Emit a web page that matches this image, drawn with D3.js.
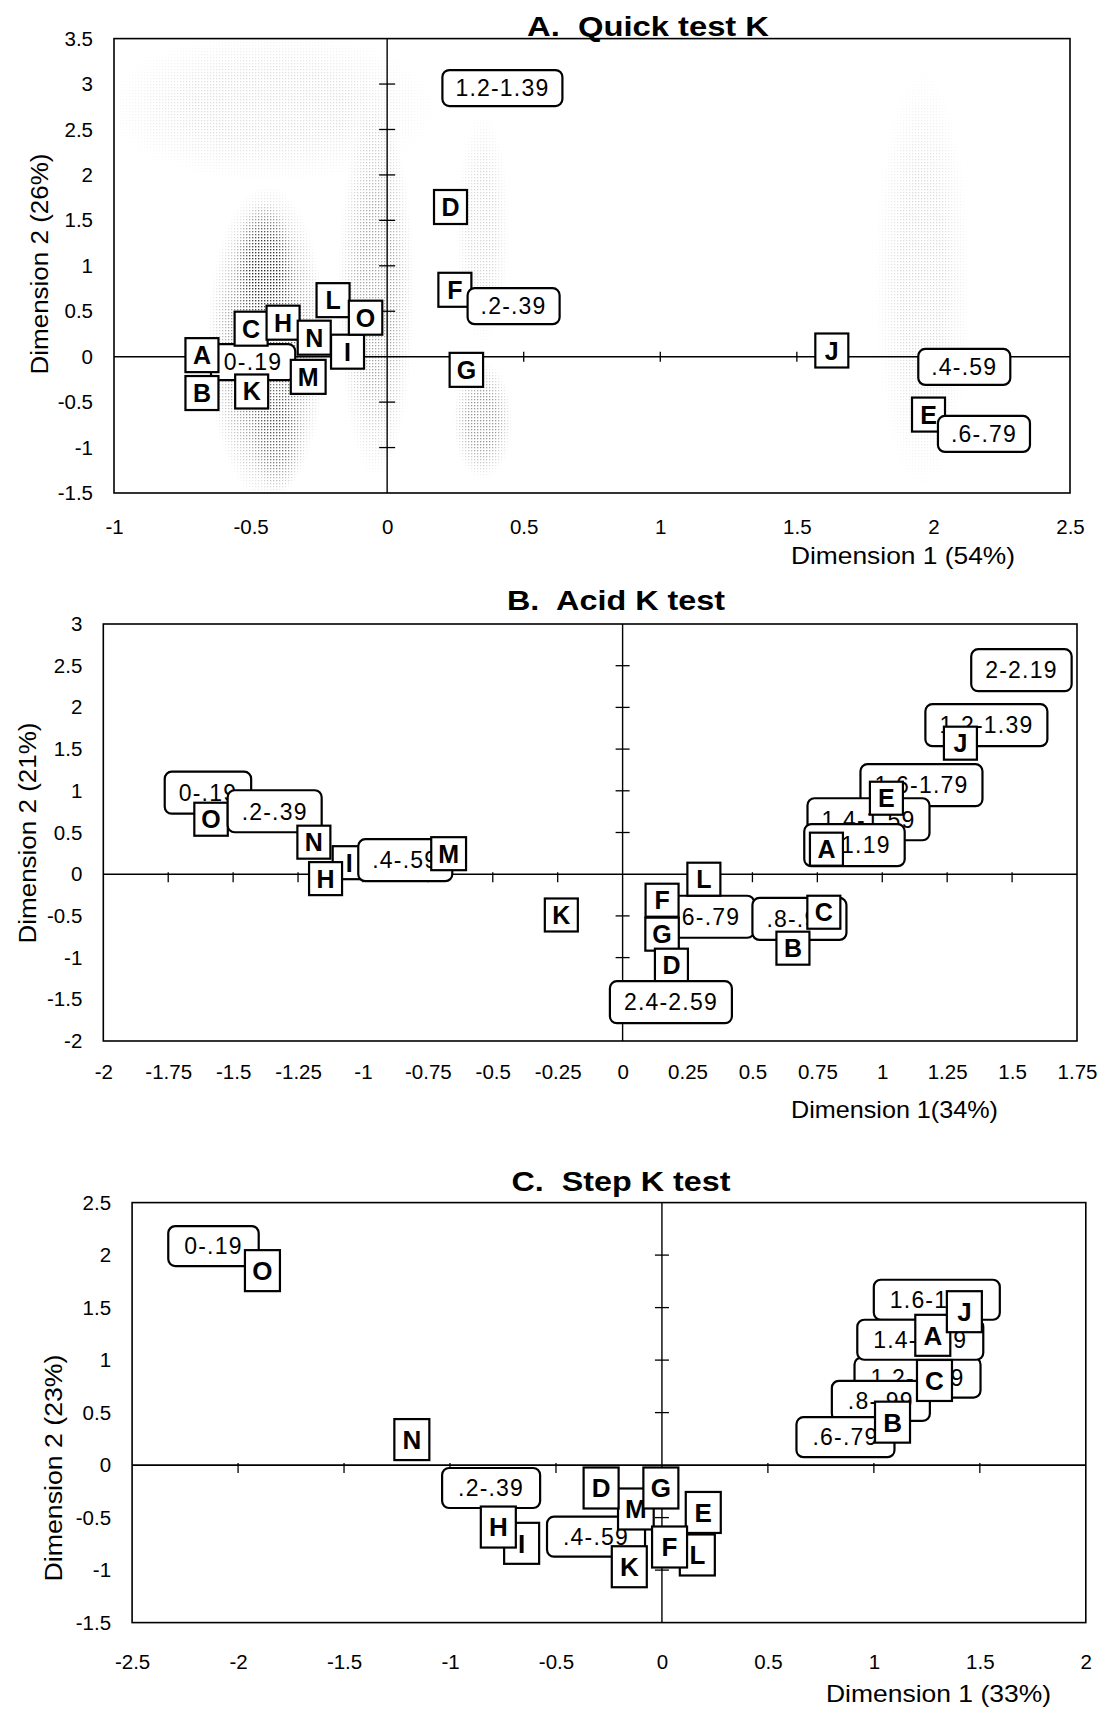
<!DOCTYPE html>
<html><head><meta charset="utf-8">
<script src="https://cdn.jsdelivr.net/npm/d3@7"></script>
<style>
html,body{margin:0;padding:0;background:#fff;}
svg{display:block;}
text{font-family:"Liberation Sans",Arial,sans-serif;fill:#000;}
</style></head><body>
<svg id="chart" width="1102" height="1709"></svg>
<script>
// ---------------- data ----------------
const quickXTicks = [-1, -0.5, 0, 0.5, 1, 1.5, 2, 2.5];
const quickYTicks = [-1.5, -1, -0.5, 0, 0.5, 1, 1.5, 2, 2.5, 3, 3.5];
const acidXTicks  = [-2, -1.75, -1.5, -1.25, -1, -0.75, -0.5, -0.25, 0, 0.25, 0.5, 0.75, 1, 1.25, 1.5, 1.75];
const acidYTicks  = [-2, -1.5, -1, -0.5, 0, 0.5, 1, 1.5, 2, 2.5, 3];
const stepXTicks  = [-2.5, -2, -1.5, -1, -0.5, 0, 0.5, 1, 1.5, 2];
const stepYTicks  = [-1.5, -1, -0.5, 0, 0.5, 1, 1.5, 2, 2.5];

// [label, kind ("s" = sample, "k" = K class), dimension 1, dimension 2] in drawing order
const quickPoints = [
  ["1.2-1.39","k",0.422,2.956],
  ["D","s",0.232,1.647],
  ["F","s",0.248,0.736],
  [".2-.39","k",0.463,0.556],
  ["G","s",0.29,-0.145],
  ["0-.19","k",-0.491,-0.06],
  ["A","s",-0.678,0.017],
  ["B","s",-0.678,-0.40],
  ["K","s",-0.496,-0.383],
  ["C","s",-0.498,0.308],
  ["H","s",-0.381,0.374],
  ["L","s",-0.198,0.622],
  ["I","s",-0.145,0.055],
  ["N","s",-0.267,0.209],
  ["O","s",-0.079,0.429],
  ["M","s",-0.289,-0.222],
  ["J","s",1.628,0.068],
  [".4-.59","k",2.113,-0.113],
  ["E","s",1.982,-0.637],
  [".6-.79","k",2.185,-0.85]
];
const acidPoints = [
  ["0-.19","k",-1.597,0.977],
  ["O","s",-1.585,0.659],
  [".2-.39","k",-1.340,0.755],
  ["I","s",-1.053,0.138],
  ["N","s",-1.189,0.384],
  ["H","s",-1.144,-0.053],
  [".4-.59","k",-0.837,0.168],
  ["M","s",-0.670,0.246],
  ["K","s",-0.236,-0.489],
  ["2-2.19","k",1.536,2.446],
  ["1.2-1.39","k",1.401,1.787],
  ["J","s",1.301,1.571],
  ["1.6-1.79","k",1.151,1.067],
  ["1.4-1.59","k",0.947,0.659],
  ["E","s",1.016,0.911],
  ["1-1.19","k",0.893,0.348],
  ["A","s",0.785,0.30],
  [".6-.79","k",0.326,-0.51],
  [".8-.99","k",0.681,-0.536],
  ["F","s",0.152,-0.312],
  ["G","s",0.152,-0.719],
  ["L","s",0.313,-0.06],
  ["C","s",0.775,-0.456],
  ["B","s",0.656,-0.887],
  ["D","s",0.188,-1.091],
  ["2.4-2.59","k",0.186,-1.535]
];
const stepPoints = [
  ["0-.19","k",-2.116,2.086],
  ["O","s",-1.885,1.852],
  ["N","s",-1.18,0.243],
  [".2-.39","k",-0.806,-0.218],
  ["I","s",-0.662,-0.745],
  ["H","s",-0.772,-0.59],
  [".4-.59","k",-0.311,-0.682],
  ["K","s",-0.154,-0.968],
  ["M","s",-0.123,-0.418],
  ["D","s",-0.287,-0.218],
  ["G","s",-0.005,-0.218],
  ["L","s",0.167,-0.856],
  ["E","s",0.195,-0.451],
  ["F","s",0.036,-0.78],
  ["1.6-1.79","k",1.297,1.575],
  ["1.2-1.39","k",1.206,0.834],
  ["1.4-1.59","k",1.219,1.194],
  [".8-.99","k",1.033,0.612],
  [".6-.79","k",0.866,0.266],
  ["B","s",1.088,0.409],
  ["C","s",1.286,0.806],
  ["A","s",1.278,1.236],
  ["J","s",1.427,1.461]
];
// dense clouds of individual observations in panel A: [x0, x1, y0, y1, density]
const quickCloud = [
  [-0.66,-0.22,-1.6,1.9,0.55],
  [-0.56,-0.34,0.3,1.7,0.6],
  [-0.5,-0.3,-1.5,-0.3,0.35],
  [-0.18,0.1,-1.35,2.8,0.35],
  [0.24,0.46,-1.35,-0.05,0.4],
  [0.25,0.45,0.1,2.7,0.16],
  [1.78,2.14,-1.5,3.2,0.14],
  [-1.05,0.2,1.9,3.6,0.13]
];

// ---------------- layout ----------------
const panels = [
  {id:"a", title:"A.\u00a0 Quick test K", titleX:648, titleY:36, titleW:242,
   xd:[-1,2.5], yd:[-1.5,3.5], left:114, right:1070, top:38.6, bottom:493,
   xlab:"Dimension 1 (54%)", xlabX:791, xlabY:564, xlabW:224,
   ylab:"Dimension 2 (26%)", ylabX:40, ylabY:264, ylabW:221,
   xPad:26, xt:[-5,5], yt:[-8,8],
   letterW:33, letterH:34, letterFont:25, rangeH:36, rangeFont:23, rangePad:13,
   points:quickPoints, xTicks:quickXTicks, yTicks:quickYTicks, cloud:quickCloud},
  {id:"b", title:"B.\u00a0 Acid K test", titleX:616, titleY:610, titleW:218,
   xd:[-2,1.75], yd:[-2,3], left:103.3, right:1077, top:624, bottom:1041,
   xlab:"Dimension 1(34%)", xlabX:791, xlabY:1118, xlabW:207,
   ylab:"Dimension 2 (21%)", ylabX:28, ylabY:833, ylabW:221,
   xPad:23, xt:[-2,8], yt:[-7,7],
   letterW:33, letterH:33, letterFont:25, rangeH:42, rangeFont:23, rangePad:14,
   points:acidPoints, xTicks:acidXTicks, yTicks:acidYTicks, cloud:null},
  {id:"c", title:"C.\u00a0 Step K test", titleX:621, titleY:1191, titleW:219,
   xd:[-2.5,2], yd:[-1.5,2.5], left:132.1, right:1085.8, top:1202.6, bottom:1622.6,
   xlab:"Dimension 1 (33%)", xlabX:826, xlabY:1702, xlabW:225,
   ylab:"Dimension 2 (23%)", ylabX:54, ylabY:1468, ylabW:227,
   xPad:32, xt:[-2,8], yt:[-7,7],
   letterW:35, letterH:41, letterFont:26, rangeH:40, rangeFont:23, rangePad:16,
   points:stepPoints, xTicks:stepXTicks, yTicks:stepYTicks, cloud:null}
];

const svg = d3.select("#chart");
const defs = svg.append("defs");
const pat = defs.append("pattern").attr("id","dots").attr("patternUnits","userSpaceOnUse")
  .attr("width",3).attr("height",3);
pat.append("rect").attr("x",0).attr("y",0).attr("width",1.3).attr("height",1.3).attr("fill","#000");
const fade = defs.append("radialGradient").attr("id","fade").attr("cx","50%").attr("cy","50%").attr("r","50%");
fade.append("stop").attr("offset","0%").attr("stop-color","#fff");
fade.append("stop").attr("offset","45%").attr("stop-color","#fff");
fade.append("stop").attr("offset","100%").attr("stop-color","#000");

const fmt = d => String(d);

panels.forEach(p => {
  const sx = d3.scaleLinear().domain(p.xd).range([p.left, p.right]);
  const sy = d3.scaleLinear().domain(p.yd).range([p.bottom, p.top]);
  const g = svg.append("g");

  defs.append("clipPath").attr("id","clip-"+p.id)
    .append("rect").attr("x",p.left).attr("y",p.top)
    .attr("width",p.right-p.left).attr("height",p.bottom-p.top);

  // observation clouds
  if (p.cloud) {
    const cg = g.append("g").attr("clip-path","url(#clip-"+p.id+")");
    p.cloud.forEach((c,i) => {
      const mid = "m-"+p.id+"-"+i;
      const x0 = sx(c[0]), x1 = sx(c[1]), y0 = sy(c[3]), y1 = sy(c[2]);
      const m = defs.append("mask").attr("id",mid).attr("maskUnits","userSpaceOnUse")
        .attr("x",0).attr("y",0).attr("width",1102).attr("height",1709);
      m.append("rect").attr("x",x0).attr("y",y0).attr("width",x1-x0).attr("height",y1-y0)
        .attr("fill","url(#fade)");
      cg.append("rect").attr("x",x0).attr("y",y0).attr("width",x1-x0).attr("height",y1-y0)
        .attr("fill","url(#dots)").attr("opacity",c[4]).attr("mask","url(#"+mid+")");
    });
  }

  // frame
  g.append("rect").attr("x",p.left).attr("y",p.top)
    .attr("width",p.right-p.left).attr("height",p.bottom-p.top)
    .attr("fill","none").attr("stroke","#000").attr("stroke-width",1.6);

  // zero lines
  g.append("line").attr("x1",p.left).attr("x2",p.right).attr("y1",sy(0)).attr("y2",sy(0))
    .attr("stroke","#000").attr("stroke-width",1.6);
  g.append("line").attr("x1",sx(0)).attr("x2",sx(0)).attr("y1",p.top).attr("y2",p.bottom)
    .attr("stroke","#000").attr("stroke-width",1.4);

  // ticks on zero lines
  g.selectAll(".xtk").data(p.xTicks.filter(d => d!==0 && d!==p.xd[0] && d!==p.xd[1])).enter()
    .append("line").attr("x1",d=>sx(d)).attr("x2",d=>sx(d))
    .attr("y1",sy(0)+p.xt[0]).attr("y2",sy(0)+p.xt[1])
    .attr("stroke","#000").attr("stroke-width",1.3);
  g.selectAll(".ytk").data(p.yTicks.filter(d => d!==0 && d!==p.yd[0] && d!==p.yd[1])).enter()
    .append("line").attr("x1",sx(0)+p.yt[0]).attr("x2",sx(0)+p.yt[1])
    .attr("y1",d=>sy(d)).attr("y2",d=>sy(d))
    .attr("stroke","#000").attr("stroke-width",1.3);

  // tick labels via d3 axes
  const ax = g.append("g").attr("transform","translate(0,"+p.bottom+")")
    .call(d3.axisBottom(sx).tickValues(p.xTicks).tickFormat(fmt).tickSize(0).tickPadding(p.xPad));
  const ay = g.append("g").attr("transform","translate("+p.left+",0)")
    .call(d3.axisLeft(sy).tickValues(p.yTicks).tickFormat(fmt).tickSize(0).tickPadding(21));
  [ax, ay].forEach(a => {
    a.select(".domain").remove();
    a.selectAll("text").attr("font-family","'Liberation Sans',Arial,sans-serif")
      .attr("font-size",20.5).attr("fill","#000");
  });

  // title
  g.append("text").attr("x",p.titleX).attr("y",p.titleY).attr("text-anchor","middle")
    .attr("font-size",28).attr("font-weight","bold")
    .attr("textLength",p.titleW).attr("lengthAdjust","spacingAndGlyphs")
    .style("white-space","pre").text(p.title);
  // axis titles
  g.append("text").attr("x",p.xlabX).attr("y",p.xlabY)
    .attr("font-size",24).attr("textLength",p.xlabW).attr("lengthAdjust","spacingAndGlyphs")
    .text(p.xlab);
  g.append("text").attr("transform","translate("+p.ylabX+","+p.ylabY+") rotate(-90)")
    .attr("text-anchor","middle").attr("dy","0.36em")
    .attr("font-family","'DejaVu Sans',Verdana,sans-serif").attr("font-size",23)
    .attr("textLength",p.ylabW).attr("lengthAdjust","spacingAndGlyphs")
    .text(p.ylab);

  // labelled boxes
  p.points.forEach(pt => {
    const [lab, kind, dx, dy] = pt;
    const cx = sx(dx), cy = sy(dy);
    const bg = g.append("g");
    const r = bg.append("rect").attr("fill","#fff").attr("stroke","#000").attr("stroke-width",2.2);
    const t = bg.append("text").attr("x",cx).attr("y",cy).attr("text-anchor","middle").attr("dy","0.36em").text(lab);
    if (kind === "s") {
      t.attr("font-size",p.letterFont).attr("font-weight","bold");
      const tw = t.node().getComputedTextLength();
      const w = Math.max(p.letterW, tw + 14);
      r.attr("x",cx-w/2).attr("y",cy-p.letterH/2).attr("width",w).attr("height",p.letterH);
    } else {
      t.attr("font-size",p.rangeFont).attr("letter-spacing",1.2);
      const tw = t.node().getComputedTextLength();
      const w = tw + 2*p.rangePad;
      r.attr("x",cx-w/2).attr("y",cy-p.rangeH/2).attr("width",w).attr("height",p.rangeH)
       .attr("rx",7).attr("ry",7);
    }
  });
});
</script>
</body></html>
